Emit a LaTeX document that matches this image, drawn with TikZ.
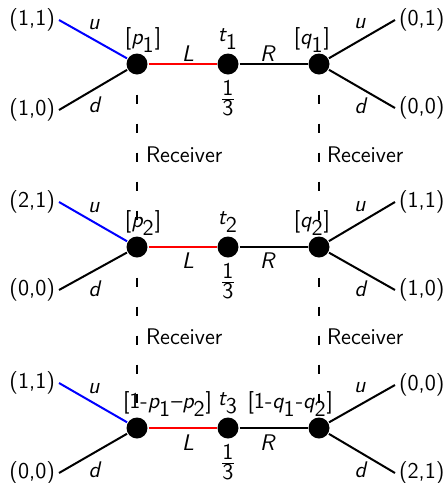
\documentclass[tikz,border=0pt]{standalone}
\renewcommand{\familydefault}{\sfdefault}
\usetikzlibrary{positioning}
\newcommand{\mv}[1]{\textsf{\itshape #1}}
\newcommand{\msub}[2]{$\smash{\mv{#1}}_{\textsf{#2}}$}
\newcommand{\third}{$\frac{\textsf{1}}{\textsf{3}}$}

\begin{document}
\begin{tikzpicture}[x=.5pt,y=-.5pt,line width=1pt,
  every node/.style={font=\fontsize{11.3}{13.6}\selectfont},
  dot/.style={circle,fill,inner sep=0pt,minimum size=10.5pt},
  leaf/.style={inner sep=1.5pt},
  lbl/.style={inner sep=0pt},
  recv/.style={anchor=west,inner sep=1pt},
  info/.style={dash pattern=on 4.5pt off 10pt,dash phase=5pt,line width=.7pt}]
\useasboundingbox (0,0) rectangle (446,483);

% first round
\begin{scope}[shift={(0,64)}]
\node[dot] (P1) at (137,0) {}; \node[dot] (T1) at (228,0) {}; \node[dot] (Q1) at (319,0) {};
\node[leaf,anchor=east] (lu1) at (59,-44) {(1,1)}; \node[leaf,anchor=east] (ld1) at (59,46) {(1,0)};
\node[leaf,anchor=west] (ru1) at (395,-44) {(0,1)}; \node[leaf,anchor=west] (rd1) at (395,44) {(0,0)};
\draw[blue] (P1)--(lu1.east); \draw (P1)--(ld1.east); \draw (Q1)--(ru1.west); \draw (Q1)--(rd1.west);
\draw[red] (P1)--(T1); \draw (T1)--(Q1);
\node[lbl] (uL1) at (94,-39) {\mv{u}}; \node[lbl] (dL1) at (95,41) {\mv{d}};
\node[lbl] (uR1) at (360,-40) {\mv{u}}; \node[lbl] (dR1) at (361,42) {\mv{d}};
\node[lbl] (L1) at (188,-10) {\mv{L}}; \node[lbl] (R1) at (268,-10) {\mv{R}};
\node[lbl,anchor=south west] (bp1) at (124,-11) {[\msub{p}{1}]};
\node[lbl,anchor=south east] (bq1) at (331,-11) {[\msub{q}{1}]};
\node[lbl,above=1pt of T1] (t1) {\msub{t}{1}}; \node[lbl,below=2pt of T1] (f1) {\third};
\end{scope}

% second round
\begin{scope}[shift={(0,247)}]
\node[dot] (P2) at (137,0) {}; \node[dot] (T2) at (228,0) {}; \node[dot] (Q2) at (319,0) {};
\node[leaf,anchor=east] (lu2) at (59,-45) {(2,1)}; \node[leaf,anchor=east] (ld2) at (59,43) {(0,0)};
\node[leaf,anchor=west] (ru2) at (395,-45) {(1,1)}; \node[leaf,anchor=west] (rd2) at (395,43) {(1,0)};
\draw[blue] (P2)--(lu2.east); \draw (P2)--(ld2.east); \draw (Q2)--(ru2.west); \draw (Q2)--(rd2.west);
\draw[red] (P2)--(T2); \draw (T2)--(Q2);
\node[lbl] (uL2) at (94,-39) {\mv{u}}; \node[lbl] (dL2) at (95,42) {\mv{d}};
\node[lbl] (uR2) at (360,-40) {\mv{u}}; \node[lbl] (dR2) at (361,42) {\mv{d}};
\node[lbl] (L2) at (188,14) {\mv{L}}; \node[lbl] (R2) at (268,14) {\mv{R}};
\node[lbl,anchor=south west] (bp2) at (124,-11) {[\msub{p}{2}]};
\node[lbl,anchor=south east] (bq2) at (331,-11) {[\msub{q}{2}]};
\node[lbl,above=1pt of T2] (t2) {\msub{t}{2}}; \node[lbl,below=2pt of T2] (f2) {\third};
\end{scope}

% third round
\begin{scope}[shift={(0,428)}]
\node[dot] (P3) at (137,0) {}; \node[dot] (T3) at (228,0) {}; \node[dot] (Q3) at (319,0) {};
\node[leaf,anchor=east] (lu3) at (59,-45) {(1,1)}; \node[leaf,anchor=east] (ld3) at (59,45) {(0,0)};
\node[leaf,anchor=west] (ru3) at (395,-43) {(0,0)}; \node[leaf,anchor=west] (rd3) at (395,45) {(2,1)};
\draw[blue] (P3)--(lu3.east); \draw (P3)--(ld3.east); \draw (Q3)--(ru3.west); \draw (Q3)--(rd3.west);
\draw[red] (P3)--(T3); \draw (T3)--(Q3);
\node[lbl] (uL3) at (94,-39) {\mv{u}}; \node[lbl] (dL3) at (95,42) {\mv{d}};
\node[lbl] (uR3) at (360,-40) {\mv{u}}; \node[lbl] (dR3) at (361,42) {\mv{d}};
\node[lbl] (L3) at (188,15) {\mv{L}}; \node[lbl] (R3) at (268,15) {\mv{R}};
\node[lbl,anchor=south west] (bp3) at (122,-11) {[1-\msub{p}{1}--\msub{p}{2}]};
\node[lbl,anchor=south east] (bq3) at (334,-11) {[1-\msub{q}{1}-\msub{q}{2}]};
\node[lbl,above=1pt of T3] (t3) {\msub{t}{3}}; \node[lbl,below=2pt of T3] (f3) {\third};
\end{scope}

% receiver information sets
\draw[info] (P1)--(P2); \draw[info] (P2)--(P3);
\draw[info] (Q1)--(Q2); \draw[info] (Q2)--(Q3);
\node[recv] (rcL1) at (143,155) {Receiver}; \node[recv] (rcR1) at (324,155) {Receiver};
\node[recv] (rcL2) at (143,337) {Receiver}; \node[recv] (rcR2) at (324,337) {Receiver};
\end{tikzpicture}
\end{document}
